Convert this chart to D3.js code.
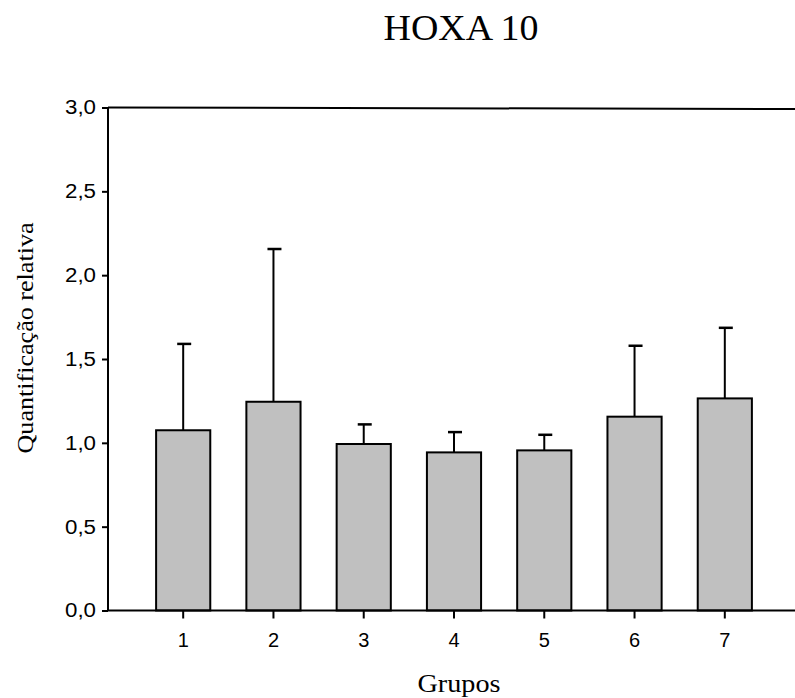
<!DOCTYPE html>
<html>
<head>
<meta charset="utf-8">
<script src="https://cdn.jsdelivr.net/npm/d3@7"></script>
<style>
  body { margin: 0; background: #fff; }
  svg { display: block; }
</style>
</head>
<body>
<svg id="chart" width="795" height="698"></svg>
<script>
// dados
const grupos = ["1", "2", "3", "4", "5", "6", "7"];
const medias = [1.075, 1.245, 0.993, 0.943, 0.955, 1.156, 1.265];
const desvios = [0.515, 0.911, 0.117, 0.121, 0.093, 0.423, 0.421];
const yTicks = [0, 0.5, 1.0, 1.5, 2.0, 2.5, 3.0];

const svg = d3.select("#chart");
const mLeft = 108, mRight = 795, mTop = 107.5, mBottom = 610.5;

const x = d3.scaleBand().domain(grupos).range([120, 788]).padding(0.4);
const y = d3.scaleLinear().domain([0, 3]).range([mBottom, mTop]);
const fmt = d => d3.format(".1f")(d).replace(".", ",");

// título
svg.append("text")
    .attr("x", 461).attr("y", 40)
    .attr("text-anchor", "middle")
    .attr("textLength", 155)
    .attr("lengthAdjust", "spacingAndGlyphs")
    .style("font-family", "'Liberation Serif', 'Times New Roman', serif")
    .style("font-size", "36px")
    .text("HOXA 10");

// linha superior
svg.append("line")
    .attr("x1", mLeft).attr("x2", mRight)
    .attr("y1", y(3)).attr("y2", y(3) + 1.5)
    .attr("stroke", "#000").attr("stroke-width", 2);

// barras de erro (só para cima)
const g = svg.append("g");
grupos.forEach((k, i) => {
    const cx = x(k) + x.bandwidth() / 2;
    const yt = y(medias[i] + desvios[i]);
    g.append("line")
        .attr("x1", cx).attr("x2", cx)
        .attr("y1", y(medias[i])).attr("y2", yt)
        .attr("stroke", "#000").attr("stroke-width", 2);
    g.append("line")
        .attr("x1", cx - 6).attr("x2", cx + 8)
        .attr("y1", yt).attr("y2", yt)
        .attr("stroke", "#000").attr("stroke-width", 2.5);
});

// barras
svg.append("g").selectAll("rect")
    .data(medias)
    .enter()
    .append("rect")
    .attr("x", (d, i) => x(grupos[i]))
    .attr("y", d => y(d))
    .attr("width", x.bandwidth())
    .attr("height", d => mBottom - y(d))
    .attr("fill", "#c0c0c0")
    .attr("stroke", "#000")
    .attr("stroke-width", 2);

// eixo Y
const yAxis = svg.append("g")
    .attr("transform", `translate(${mLeft},0)`)
    .call(d3.axisLeft(y).tickValues(yTicks).tickFormat(fmt).tickSize(6).tickPadding(6));
yAxis.select(".domain").attr("stroke-width", 2).attr("d", `M0,${mBottom}V${mTop}`);
yAxis.selectAll(".tick line").attr("stroke-width", 2);
yAxis.selectAll("text")
    .style("font-family", "'Liberation Sans', Arial, sans-serif")
    .style("font-size", "20px")
    .attr("textLength", 31)
    .attr("lengthAdjust", "spacingAndGlyphs")
    .attr("fill", "#000");

// eixo X
const xAxis = svg.append("g")
    .attr("transform", `translate(0,${mBottom})`)
    .call(d3.axisBottom(x).tickSize(8).tickPadding(14));
xAxis.select(".domain").attr("stroke-width", 2).attr("d", `M${mLeft},0H${mRight}`);
xAxis.selectAll(".tick line").attr("stroke-width", 2);
xAxis.selectAll("text")
    .style("font-family", "'Liberation Sans', Arial, sans-serif")
    .style("font-size", "20px")
    .attr("fill", "#000");

// rótulos dos eixos
svg.append("text")
    .attr("x", 459).attr("y", 692)
    .attr("text-anchor", "middle")
    .attr("textLength", 83)
    .attr("lengthAdjust", "spacingAndGlyphs")
    .style("font-family", "'Liberation Serif', 'Times New Roman', serif")
    .style("font-size", "25px")
    .text("Grupos");

svg.append("text")
    .attr("transform", "translate(33,338) rotate(-90)")
    .attr("text-anchor", "middle")
    .attr("textLength", 231)
    .attr("lengthAdjust", "spacingAndGlyphs")
    .style("font-family", "'Liberation Serif', 'Times New Roman', serif")
    .style("font-size", "24px")
    .text("Quantificação relativa");
</script>
</body>
</html>
